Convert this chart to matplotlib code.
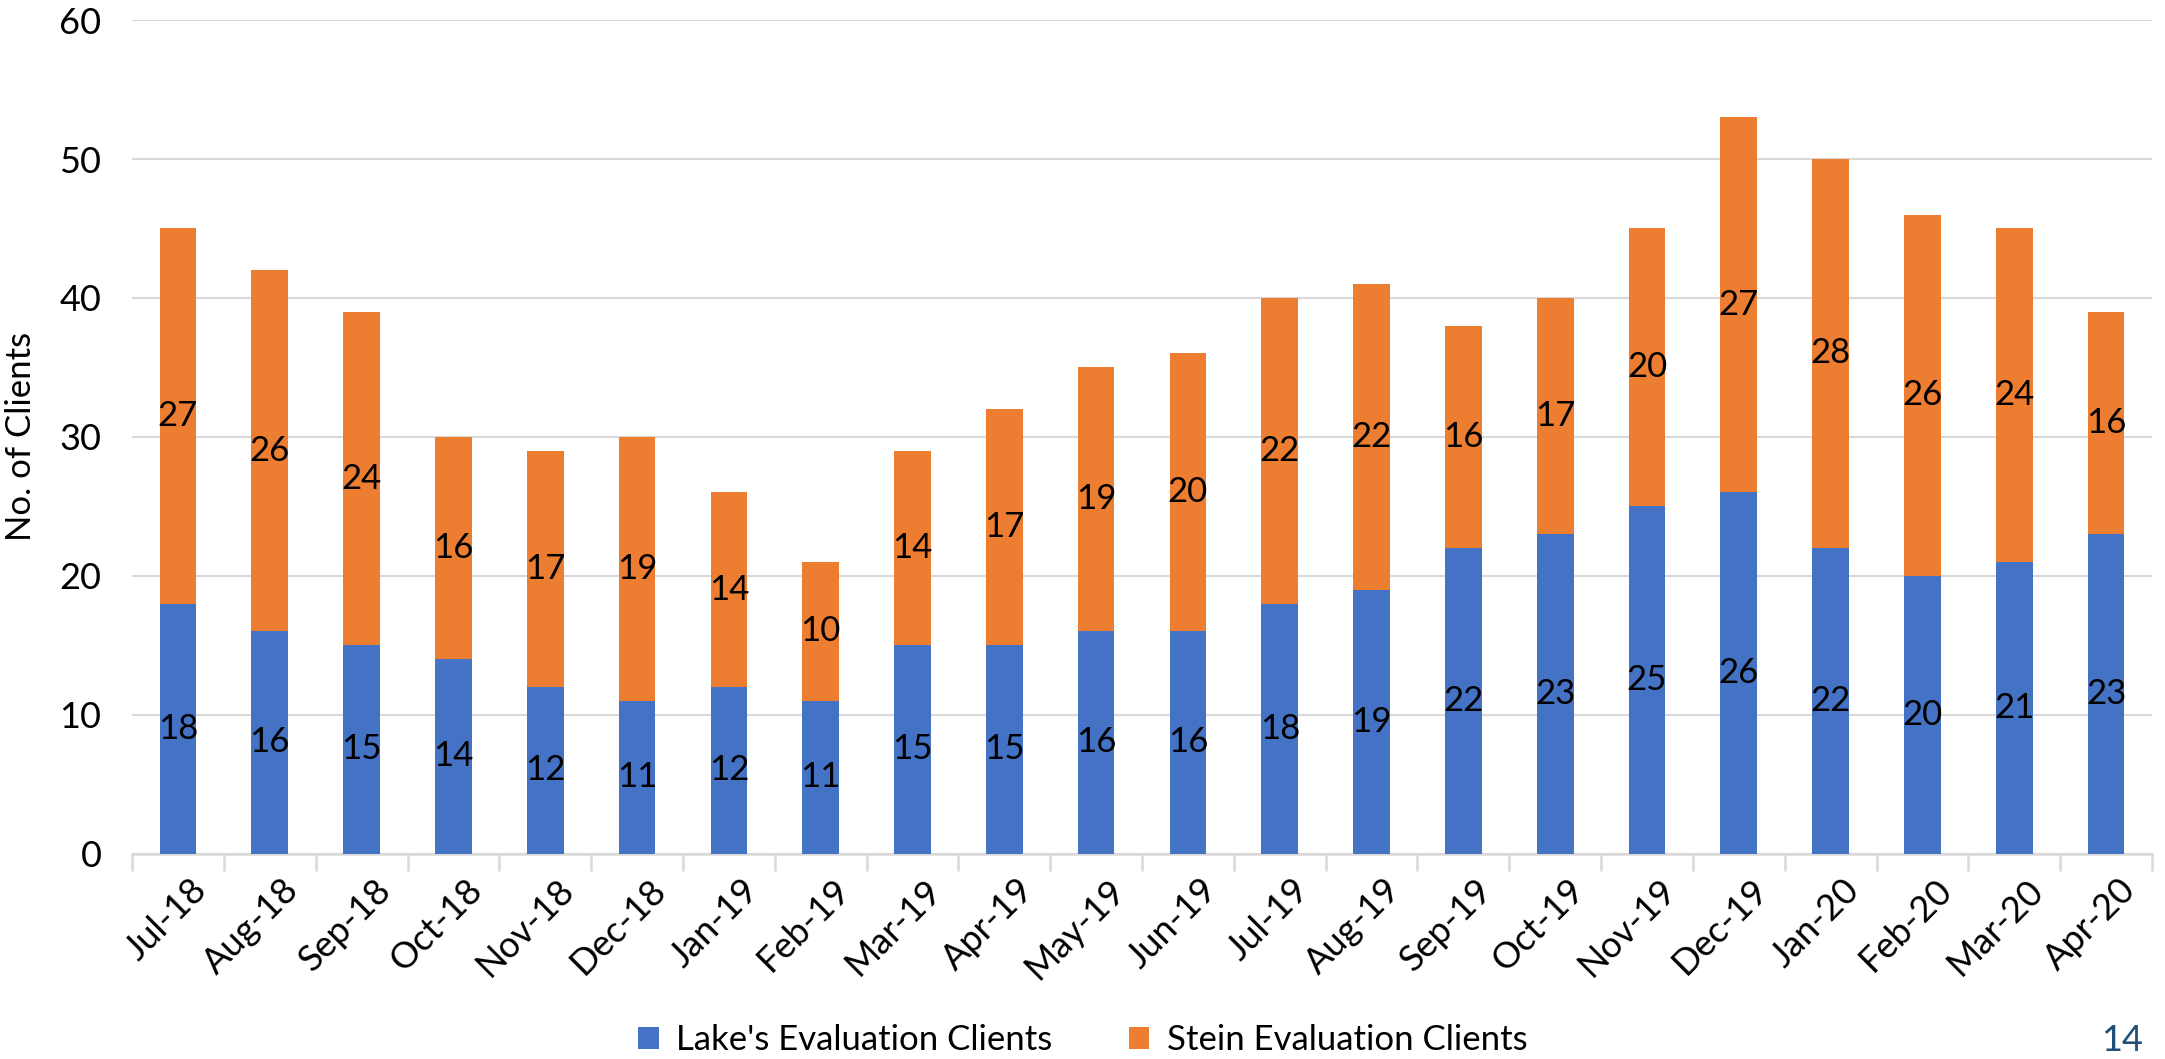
import numpy as np
import matplotlib
matplotlib.use("Agg")
import matplotlib.pyplot as plt
import matplotlib.transforms as mtrans

months = ["Jul-18", "Aug-18", "Sep-18", "Oct-18", "Nov-18", "Dec-18", "Jan-19", "Feb-19",
          "Mar-19", "Apr-19", "May-19", "Jun-19", "Jul-19", "Aug-19", "Sep-19", "Oct-19",
          "Nov-19", "Dec-19", "Jan-20", "Feb-20", "Mar-20", "Apr-20"]
lake = [18, 16, 15, 14, 12, 11, 12, 11, 15, 15, 16, 16, 18, 19, 22, 23, 25, 26, 22, 20, 21, 23]
stein = [27, 26, 24, 16, 17, 19, 14, 10, 14, 17, 19, 20, 22, 22, 16, 17, 20, 27, 28, 26, 24, 16]

plt.rcParams['font.family'] = ['Lato', 'DejaVu Sans']

fig = plt.figure(figsize=(21.65, 10.59), dpi=100)
ax = fig.add_axes([0.061, 0.194, 0.933, 0.787])

x = np.arange(len(months))
blue = "#4472C4"
orange = "#ED7D31"
b1 = ax.bar(x, lake, width=0.4, color=blue, label="Lake's Evaluation Clients", zorder=3)
b2 = ax.bar(x, stein, width=0.4, bottom=lake, color=orange, label="Stein Evaluation Clients", zorder=3)

# value labels in the middle of each segment
for xi, l, s in zip(x, lake, stein):
    ax.text(xi, l / 2, str(l), ha='center', va='center', fontsize=25, zorder=4)
    ax.text(xi, l + s / 2, str(s), ha='center', va='center', fontsize=25, zorder=4)

ax.set_xlim(-0.5, len(months) - 0.5)
ax.set_ylim(0, 60)
ax.set_yticks(range(0, 61, 10))
ax.yaxis.grid(True, color="#d9d9d9", linewidth=1.5, zorder=0)
ax.set_axisbelow(True)
for sp in ["top", "right", "left"]:
    ax.spines[sp].set_visible(False)
ax.spines["bottom"].set_color("#d9d9d9")
ax.spines["bottom"].set_linewidth(1.8)

ax.tick_params(axis='y', length=0, labelsize=26, pad=22)
ax.set_xticks(x)
ax.set_xticklabels(months, rotation=45, ha='right', rotation_mode='anchor', fontsize=26)
ax.tick_params(axis='x', which='major', length=0, pad=14)
ax.set_xticks(np.arange(-0.5, len(months), 1), minor=True)
ax.tick_params(axis='x', which='minor', length=12, width=1.8, color="#d9d9d9")

offset = mtrans.ScaledTranslation(0.12, 0, fig.dpi_scale_trans)
for lbl in ax.get_xticklabels():
    lbl.set_transform(lbl.get_transform() + offset)

ax.set_ylabel("No. of Clients", fontsize=25, labelpad=16)

fig.legend(handles=[b1, b2], loc='center', bbox_to_anchor=(0.5, 0.018), ncol=2,
           frameon=False, fontsize=25, handlelength=0.6, handleheight=0.6,
           columnspacing=2.2, handletextpad=0.5)

fig.text(0.99, 0.002, "14", color="#1F4E79", fontsize=26, ha='right', va='bottom')

fig.savefig("out.png", dpi=100)
